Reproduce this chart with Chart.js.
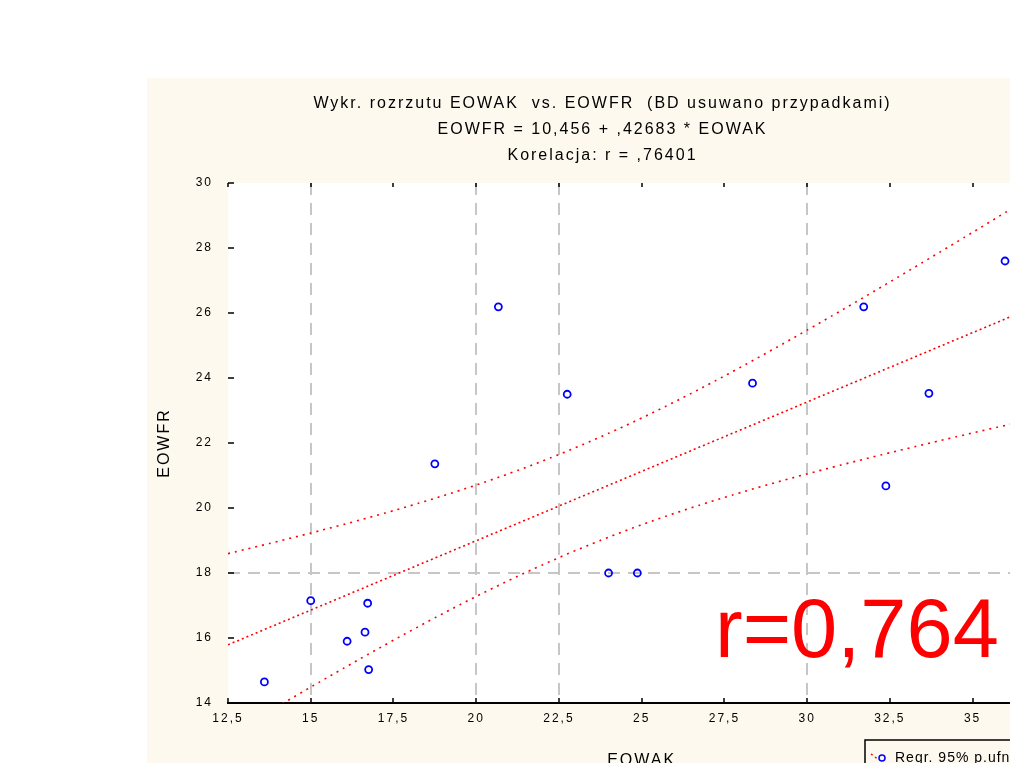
<!DOCTYPE html>
<html lang="pl">
<head>
<meta charset="utf-8">
<title>EOWAK vs. EOWFR</title>
<script src="https://cdn.jsdelivr.net/npm/chart.js@4.4.1/dist/chart.umd.min.js"></script>
<style>
  html, body { margin: 0; padding: 0; background: #ffffff; overflow: hidden; }
  #wrap { position: absolute; left: 147px; top: 78px; width: 928px; height: 700px; }
</style>
</head>
<body>
<div id="wrap"><canvas id="wykres" width="928" height="700"></canvas></div>
<script>
// dane: pary obserwacji EOWAK / EOWFR
const eowak = [13.6, 15.0, 16.1, 16.64, 16.72, 16.75, 18.75, 20.67, 22.75, 24.0, 24.87, 28.35, 31.71, 32.38, 33.68, 35.98];
const eowfr = [14.65, 17.15, 15.9, 16.18, 17.07, 15.03, 21.36, 26.19, 23.5, 18.0, 18.0, 23.84, 26.19, 20.68, 23.53, 27.6];

// parametry regresji z opisu wykresu
const WYRAZ_WOLNY = 10.456;
const NACHYLENIE = 0.42683;
const KORELACJA = 0.76401;
const T_95 = 2.145; // t(0,975; n-2)

const osX = { min: 12.5, max: 37.5, krok: 2.5 };
const osY = { min: 14, max: 30, krok: 2 };
const siatkaX = [15, 20, 22.5, 30];
const siatkaY = [18];

const czcionka = '"Liberation Sans", Arial, sans-serif';
const przecinek = v => String(+v.toFixed(2)).replace('.', ',');
// format jak w Statistice: ",76401" zamiast "0,76401"
const liczba = (v, miejsca) => v.toFixed(miejsca).replace('.', ',').replace(/^0,/, ',');

// przedzial ufnosci 95% dla prostej regresji
const n = eowak.length;
const sredniaX = eowak.reduce((a, b) => a + b, 0) / n;
const sxx = eowak.reduce((a, x) => a + (x - sredniaX) ** 2, 0);
const sse = eowak.reduce((a, x, i) => a + (eowfr[i] - (WYRAZ_WOLNY + NACHYLENIE * x)) ** 2, 0);
const sReszt = Math.sqrt(sse / (n - 2));

const prosta = [], gorna = [], dolna = [];
for (let x = osX.min; x <= osX.max + 1e-9; x += 0.25) {
    const yHat = WYRAZ_WOLNY + NACHYLENIE * x;
    const h = T_95 * sReszt * Math.sqrt(1 / n + (x - sredniaX) ** 2 / sxx);
    prosta.push({ x: x, y: yHat });
    gorna.push({ x: x, y: yHat + h });
    dolna.push({ x: x, y: yHat - h });
}

const punkty = eowak.map((x, i) => ({ x: x, y: eowfr[i] }));

const tytul = [
    'Wykr. rozrzutu EOWAK  vs. EOWFR  (BD usuwano przypadkami)',
    'EOWFR = ' + liczba(WYRAZ_WOLNY, 3) + ' + ' + liczba(NACHYLENIE, 5) + ' * EOWAK',
    'Korelacja: r = ' + liczba(KORELACJA, 5)
];

// tlo, kreski podzialki do wewnatrz, legenda i duzy napis z r
const dodatki = {
    id: 'dodatki',
    beforeDraw(chart) {
        const { ctx, chartArea: a } = chart;
        ctx.save();
        ctx.fillStyle = '#fef9ee';
        ctx.fillRect(0, 0, chart.width, chart.height);
        ctx.fillStyle = '#ffffff';
        ctx.fillRect(a.left, a.top, a.right - a.left, a.bottom - a.top);
        ctx.restore();
        ctx.letterSpacing = '2px';
    },
    afterDatasetsDraw(chart) {
        const { ctx, chartArea: a, scales } = chart;
        ctx.save();
        ctx.strokeStyle = '#000000';
        ctx.lineWidth = 1.5;
        ctx.beginPath();
        scales.x.ticks.forEach(t => {
            const px = Math.round(scales.x.getPixelForValue(t.value));
            ctx.moveTo(px, a.bottom); ctx.lineTo(px, a.bottom - 5);
            ctx.moveTo(px, a.top); ctx.lineTo(px, a.top + 4);
        });
        scales.y.ticks.forEach(t => {
            const py = Math.round(scales.y.getPixelForValue(t.value));
            ctx.moveTo(a.left, py); ctx.lineTo(a.left + 6, py);
        });
        ctx.stroke();
        ctx.restore();
    },
    afterDraw(chart) {
        const { ctx, chartArea: a } = chart;
        ctx.save();
        ctx.letterSpacing = '0px';
        // r=0,764
        ctx.fillStyle = '#ff0000';
        ctx.font = '83px ' + czcionka;
        ctx.textBaseline = 'alphabetic';
        ctx.textAlign = 'left';
        ctx.fillText('r=' + KORELACJA.toFixed(3).replace('.', ','), a.left + 487, a.bottom - 46);

        // legenda
        const lx = 718, ly = 662;
        ctx.strokeStyle = '#000000';
        ctx.lineWidth = 1.5;
        ctx.strokeRect(lx, ly, 260, 60);
        ctx.strokeStyle = '#ff0000';
        ctx.setLineDash([2, 3]);
        ctx.beginPath();
        ctx.moveTo(lx + 6, ly + 14); ctx.lineTo(lx + 14, ly + 20);
        ctx.stroke();
        ctx.setLineDash([]);
        ctx.strokeStyle = '#0000ff';
        ctx.beginPath();
        ctx.arc(lx + 17, ly + 18, 3, 0, Math.PI * 2);
        ctx.stroke();
        ctx.fillStyle = '#000000';
        ctx.font = '14px ' + czcionka;
        ctx.letterSpacing = '1px';
        ctx.textBaseline = 'middle';
        ctx.fillText('Regr. 95% p.ufn.', lx + 30, ly + 18);
        ctx.restore();
        ctx.letterSpacing = '0px';
    }
};

const kolorSiatki = (wartosci) => (c) =>
    (c.tick && wartosci.some(v => Math.abs(v - c.tick.value) < 1e-6)) ? '#c6c6c6' : 'rgba(0,0,0,0)';

new Chart(document.getElementById('wykres').getContext('2d'), {
    data: {
        datasets: [
            {
                type: 'scatter',
                label: 'EOWFR',
                data: punkty,
                order: 0,
                pointStyle: 'circle',
                pointRadius: 3.5,
                pointBorderWidth: 1.8,
                borderColor: '#0000ff',
                backgroundColor: 'rgba(0,0,0,0)'
            },
            {
                type: 'line',
                label: 'Regresja',
                data: prosta,
                order: 1,
                borderColor: '#ff0000',
                borderWidth: 1.6,
                borderDash: [2, 3],
                pointRadius: 0,
                fill: false
            },
            {
                type: 'line',
                label: '95% p.ufn. (gorny)',
                data: gorna,
                order: 1,
                borderColor: '#ff0000',
                borderWidth: 1.6,
                borderDash: [2, 5],
                pointRadius: 0,
                tension: 0.2,
                fill: false
            },
            {
                type: 'line',
                label: '95% p.ufn. (dolny)',
                data: dolna,
                order: 1,
                borderColor: '#ff0000',
                borderWidth: 1.6,
                borderDash: [2, 5],
                pointRadius: 0,
                tension: 0.2,
                fill: false
            }
        ]
    },
    options: {
        responsive: false,
        animation: false,
        layout: { padding: { left: 0, right: 17, top: 0, bottom: 0 } },
        plugins: {
            legend: { display: false },
            tooltip: { enabled: false },
            title: {
                display: true,
                text: tytul,
                color: '#000000',
                font: { family: czcionka, size: 16, weight: 'normal', lineHeight: '26px' },
                padding: { top: 13, bottom: 14 }
            }
        },
        scales: {
            x: {
                type: 'linear',
                position: 'bottom',
                min: osX.min,
                max: osX.max,
                afterFit(s) { s.height = 75; },
                ticks: {
                    stepSize: osX.krok,
                    color: '#000000',
                    padding: 8,
                    maxRotation: 0,
                    font: { family: czcionka, size: 12 },
                    callback: v => przecinek(v)
                },
                grid: { color: kolorSiatki(siatkaX), lineWidth: 2, drawTicks: false },
                border: { display: true, color: '#000000', width: 2, dash: [12, 8] },
                title: {
                    display: true,
                    text: 'EOWAK',
                    color: '#000000',
                    font: { family: czcionka, size: 16 },
                    padding: { top: 0, bottom: 8 }
                }
            },
            y: {
                type: 'linear',
                position: 'left',
                min: osY.min,
                max: osY.max,
                afterFit(s) { s.width = 81; },
                ticks: {
                    stepSize: osY.krok,
                    color: '#000000',
                    padding: 15,
                    font: { family: czcionka, size: 12 },
                    callback: v => przecinek(v)
                },
                grid: { color: kolorSiatki(siatkaY), lineWidth: 2, drawTicks: false },
                border: { display: false, dash: [12, 8] },
                title: {
                    display: true,
                    text: 'EOWFR',
                    color: '#000000',
                    font: { family: czcionka, size: 16 },
                    padding: { top: 8, bottom: 0 }
                }
            }
        }
    },
    plugins: [dodatki]
});
</script>
</body>
</html>
